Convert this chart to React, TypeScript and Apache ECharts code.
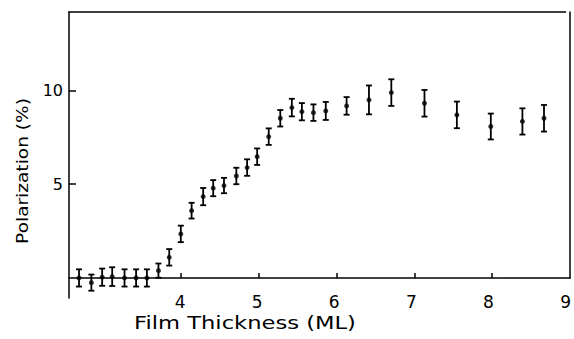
import React, { useEffect, useRef } from "react";
import * as echarts from "echarts";

const xValues = [2.69, 2.85, 2.99, 3.12, 3.28, 3.43, 3.57, 3.72, 3.86, 4.01, 4.15, 4.3, 4.43, 4.57, 4.73, 4.87, 5.0, 5.15, 5.3, 5.45, 5.58, 5.73, 5.89, 6.16, 6.45, 6.74, 7.17, 7.59, 8.03, 8.44, 8.72];
const yValues = [0, -0.25, 0.04, 0.07, 0, 0, 0, 0.39, 1.1, 2.35, 3.59, 4.34, 4.79, 4.93, 5.44, 5.89, 6.47, 7.54, 8.52, 9.09, 8.87, 8.82, 8.91, 9.18, 9.5, 9.89, 9.32, 8.7, 8.08, 8.35, 8.52];
const errValues = [0.46, 0.43, 0.46, 0.5, 0.46, 0.46, 0.46, 0.38, 0.44, 0.44, 0.42, 0.46, 0.43, 0.41, 0.44, 0.44, 0.44, 0.44, 0.44, 0.47, 0.46, 0.44, 0.48, 0.47, 0.77, 0.71, 0.71, 0.71, 0.69, 0.7, 0.71];
const xTicks = [4, 5, 6, 7, 8, 9];
const xInnerTicks = [4, 5, 6, 7, 8];
const yTicks = [5, 10];
const xMin = 2.56;
const xMax = 9;
const yMin = -1.07;
const yMax = 14.19;
const xTitle = "Film Thickness (ML)";
const yTitle = "Polarization (%)";

const FONT = "DejaVu Sans";
const W = 574;
const H = 339;
const GRID = { left: 69, right: 4, top: 12, bottom: 41 };

export default function App() {
  const ref = useRef<HTMLDivElement>(null);
  useEffect(() => {
    if (!ref.current) return;
    const chart = echarts.init(ref.current, null, { renderer: "svg" });
    const data = xValues.map((x, i) => [x, yValues[i], errValues[i]]);
    const border = { color: "#000", width: 1.5, type: "solid" };
    const gridH = H - GRID.top - GRID.bottom;
    const zeroFromTop = ((yMax - 0) / (yMax - yMin)) * gridH;
    const zeroOffset = -(gridH - zeroFromTop);
    const zeroPx = GRID.top + zeroFromTop;
    chart.setOption({
      animation: false,
      backgroundColor: "#ffffff",
      grid: [
        GRID,
        { left: GRID.left, right: GRID.right, top: GRID.top, height: zeroFromTop },
        { left: GRID.left, right: GRID.right, top: zeroPx, height: 20 },
      ],
      xAxis: [
        {
          type: "value",
          gridIndex: 0,
          position: "bottom",
          min: xMin,
          max: xMax,
          offset: zeroOffset,
          axisLine: { show: false, onZero: false },
          axisTick: { show: false },
          axisLabel: { show: true, customValues: xTicks, margin: 16, color: "#000", fontSize: 17, fontFamily: FONT },
          splitLine: { show: false },
        },
        {
          type: "value",
          gridIndex: 0,
          position: "top",
          min: xMin,
          max: xMax,
          axisLine: { show: true, onZero: false, lineStyle: border },
          axisTick: { show: false },
          axisLabel: { show: false },
          splitLine: { show: false },
        },
        {
          type: "value",
          gridIndex: 2,
          position: "top",
          min: xMin,
          max: xMax,
          axisLine: { show: true, onZero: false, lineStyle: border },
          axisTick: { show: true, inside: false, length: 5, customValues: xInnerTicks, lineStyle: border },
          axisLabel: { show: false },
          splitLine: { show: false },
        },
        {
          type: "value",
          gridIndex: 1,
          min: xMin,
          max: xMax,
          show: false,
        },
      ],
      yAxis: [
        {
          type: "value",
          gridIndex: 0,
          min: yMin,
          max: yMax,
          axisLine: { show: true, onZero: false, lineStyle: border },
          axisTick: { show: true, inside: true, length: 7, customValues: yTicks, lineStyle: border },
          axisLabel: { show: true, customValues: yTicks, margin: 6, color: "#000", fontSize: 16, fontFamily: FONT },
          splitLine: { show: false },
        },
        {
          type: "value",
          gridIndex: 1,
          position: "right",
          min: 0,
          max: yMax,
          axisLine: { show: true, onZero: false, lineStyle: border },
          axisTick: { show: false },
          axisLabel: { show: false },
          splitLine: { show: false },
        },
        {
          type: "value",
          gridIndex: 2,
          min: 0,
          max: 1,
          show: false,
        },
      ],
      graphic: [
        {
          type: "text",
          x: 245,
          y: 323,
          scaleX: 1.33,
          style: { text: xTitle, fontSize: 17, fontFamily: FONT, fill: "#000", align: "center", verticalAlign: "middle" },
        },
        {
          type: "text",
          x: 22,
          y: 171,
          rotation: Math.PI / 2,
          scaleX: 1.16,
          style: { text: yTitle, fontSize: 16, fontFamily: FONT, fill: "#000", align: "center", verticalAlign: "middle" },
        },
      ],
      series: [
        {
          type: "custom",
          xAxisIndex: 0,
          yAxisIndex: 0,
          data,
          encode: { x: 0, y: 1 },
          renderItem: (params: any, api: any) => {
            const x = api.value(0);
            const y = api.value(1);
            const e = api.value(2);
            const top = api.coord([x, y + e]);
            const bot = api.coord([x, y - e]);
            const w = 3;
            const st = { stroke: "#000", lineWidth: 1.8 };
            return {
              type: "group",
              children: [
                { type: "line", shape: { x1: top[0], y1: top[1], x2: bot[0], y2: bot[1] }, style: st },
                { type: "line", shape: { x1: top[0] - w, y1: top[1], x2: top[0] + w, y2: top[1] }, style: st },
                { type: "line", shape: { x1: bot[0] - w, y1: bot[1], x2: bot[0] + w, y2: bot[1] }, style: st },
              ],
            };
          },
        },
        {
          type: "scatter",
          xAxisIndex: 0,
          yAxisIndex: 0,
          data: data.map((d) => [d[0], d[1]]),
          symbol: "circle",
          symbolSize: 5,
          itemStyle: { color: "#000" },
        },
      ],
    });
    return () => chart.dispose();
  }, []);
  return <div ref={ref} style={{ position: "fixed", left: 0, top: 0, width: W, height: H }} />;
}
